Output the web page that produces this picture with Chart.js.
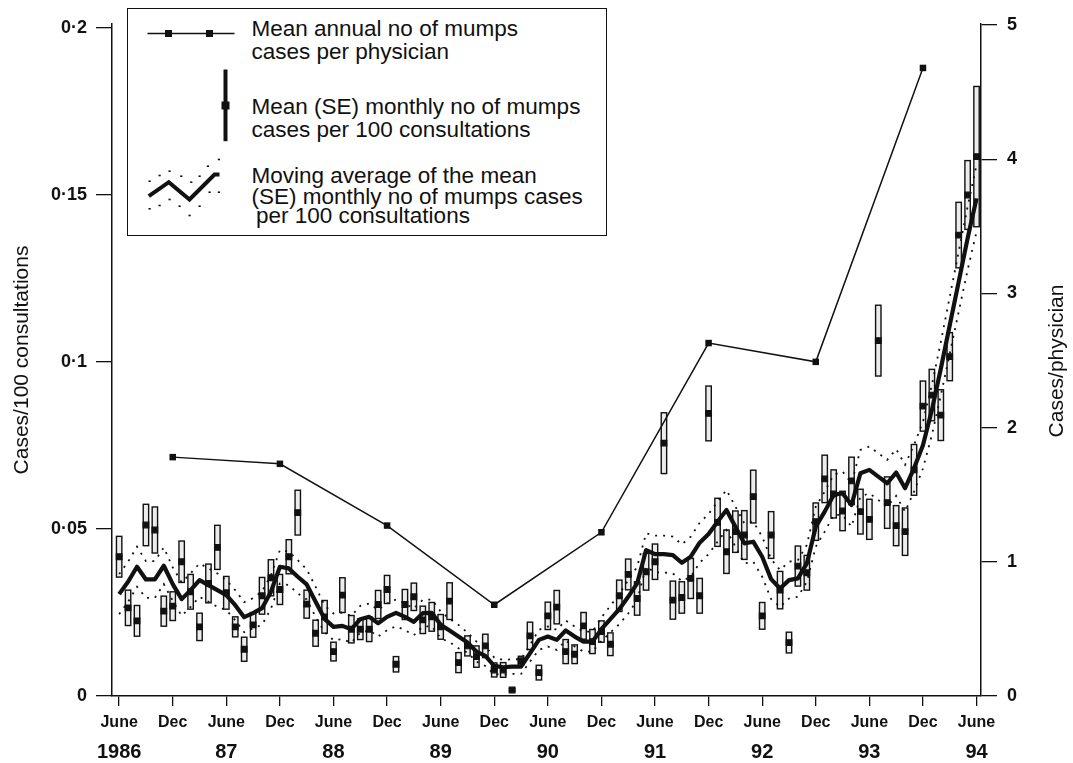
<!DOCTYPE html>
<html>
<head>
<meta charset="utf-8">
<title>Mumps cases 1986-94</title>
<script src="https://cdn.jsdelivr.net/npm/chart.js@4.4.1/dist/chart.umd.min.js"></script>
<style>
  html, body { margin: 0; padding: 0; background: #fff; }
  #wrap { position: relative; width: 1073px; height: 763px; }
  #chart { position: absolute; left: 0; top: 0; }
  .legend { position: absolute; left: 127px; top: 8px; width: 480px; height: 228px; box-sizing: border-box;
            border: 1.5px solid #111; background: #fff; }
  .legend svg { position: absolute; left: 0; top: 0; }
  .lg-row { position: absolute; left: 123.5px; font: 22.5px/1 "Liberation Sans", Arial, sans-serif; color: #111; white-space: nowrap; }
</style>
</head>
<body>
<div id="wrap">
  <canvas id="chart" width="1073" height="763"></canvas>
  <div class="legend">
    <svg width="477" height="225" viewBox="0 0 477 225">
      <!-- annual line symbol -->
      <line x1="19.5" y1="24.5" x2="106.5" y2="24.5" stroke="#111" stroke-width="1.5"/>
      <rect x="37" y="21" width="7" height="7" fill="#111"/>
      <rect x="78" y="21" width="7" height="7" fill="#111"/>
      <!-- monthly mean (SE) symbol -->
      <line x1="97.5" y1="60.5" x2="97.5" y2="132.2" stroke="#111" stroke-width="4"/>
      <rect x="93.5" y="92.5" width="8" height="8" fill="#111"/>
      <!-- moving average symbol -->
      <polyline points="20.8,187.2 40.8,173.2 61.5,190.5 86.5,165.5 91.5,165.5" fill="none" stroke="#111" stroke-width="4" stroke-linejoin="miter"/>
      <g fill="#111" id="lgDots"></g>
    </svg>
    <div class="lg-row" style="top:8.8px">Mean annual no of mumps</div>
    <div class="lg-row" style="top:31.5px">cases per physician</div>
    <div class="lg-row" style="top:86.5px">Mean (SE) monthly no of mumps</div>
    <div class="lg-row" style="top:109.8px">cases per 100 consultations</div>
    <div class="lg-row" style="top:155.8px">Moving average of the mean</div>
    <div class="lg-row" style="top:176.5px">(SE) monthly no of mumps cases</div>
    <div class="lg-row" style="top:195.5px; left:128px">per 100 consultations</div>
  </div>
</div>
<script>
// Monthly data, June 1986 (index 0) to June 1994 (index 96), one row per June-May year
const meanCases = [
  0.0417, 0.0264, 0.0225, 0.0512, 0.0497, 0.0254, 0.0269, 0.0402, 0.0312, 0.0207, 0.0337, 0.0445,
  0.0309, 0.0207, 0.0140, 0.0213, 0.0300, 0.0354, 0.0319, 0.0417, 0.0549, 0.0275, 0.0188, 0.0237,
  0.0133, 0.0302, 0.0200, 0.0200, 0.0200, 0.0274, 0.0319, 0.0095, 0.0274, 0.0297, 0.0228, 0.0237,
  0.0207, 0.0284, 0.0100, 0.0150, 0.0118, 0.0150, 0.0078, 0.0078, 0.0018, 0.0106, 0.0180, 0.0070,
  0.0240, 0.0266, 0.0133, 0.0125, 0.0210, 0.0163, 0.0193, 0.0155, 0.0300, 0.0364, 0.0292, 0.0372,
  0.0402, 0.0757, 0.0287, 0.0295, 0.0352, 0.0300, 0.0846, 0.0520, 0.0432, 0.0492, 0.0482, 0.0597,
  0.0240, 0.0482, 0.0317, 0.0160, 0.0389, 0.0369, 0.0522, 0.0650, 0.0605, 0.0554, 0.0644, 0.0552,
  0.0529, 0.1064, 0.0579, 0.0510, 0.0492, 0.0677, 0.0868, 0.0901, 0.0841, 0.1016, 0.1380, 0.1500,
  0.1615
];
const seCases = [
  0.0061, 0.0053, 0.0046, 0.0062, 0.0069, 0.0045, 0.0043, 0.0062, 0.0052, 0.0041, 0.0058, 0.0066,
  0.0049, 0.0030, 0.0036, 0.0037, 0.0055, 0.0054, 0.0045, 0.0051, 0.0067, 0.0042, 0.0039, 0.0049,
  0.0028, 0.0052, 0.0041, 0.0031, 0.0037, 0.0042, 0.0042, 0.0023, 0.0045, 0.0041, 0.0041, 0.0043,
  0.0037, 0.0055, 0.0030, 0.0030, 0.0032, 0.0035, 0.0021, 0.0022, 0.0005, 0.0013, 0.0041, 0.0022,
  0.0041, 0.0050, 0.0036, 0.0028, 0.0040, 0.0036, 0.0032, 0.0034, 0.0047, 0.0046, 0.0050, 0.0055,
  0.0053, 0.0091, 0.0057, 0.0047, 0.0060, 0.0052, 0.0082, 0.0072, 0.0065, 0.0062, 0.0073, 0.0079,
  0.0040, 0.0070, 0.0056, 0.0031, 0.0060, 0.0052, 0.0056, 0.0071, 0.0072, 0.0059, 0.0071, 0.0067,
  0.0060, 0.0106, 0.0077, 0.0060, 0.0071, 0.0076, 0.0075, 0.0077, 0.0076, 0.0072, 0.0098, 0.0103,
  0.0210
];
const movingAvg = [
  0.0305, 0.0342, 0.0387, 0.0349, 0.0349, 0.0390, 0.0335, 0.0290, 0.0317, 0.0347, 0.0332, 0.0317,
  0.0302, 0.0272, 0.0236, 0.0248, 0.0263, 0.0312, 0.0387, 0.0382, 0.0357, 0.0334, 0.0282, 0.0231,
  0.0207, 0.0210, 0.0200, 0.0230, 0.0237, 0.0218, 0.0237, 0.0249, 0.0237, 0.0222, 0.0248, 0.0249,
  0.0213, 0.0196, 0.0178, 0.0160, 0.0133, 0.0120, 0.0090, 0.0086, 0.0088, 0.0088, 0.0128, 0.0168,
  0.0178, 0.0168, 0.0196, 0.0178, 0.0163, 0.0163, 0.0200, 0.0230, 0.0260, 0.0297, 0.0337, 0.0437,
  0.0425, 0.0425, 0.0422, 0.0399, 0.0417, 0.0459, 0.0485, 0.0522, 0.0557, 0.0507, 0.0457, 0.0462,
  0.0417, 0.0350, 0.0322, 0.0347, 0.0352, 0.0397, 0.0507, 0.0552, 0.0602, 0.0607, 0.0572, 0.0667,
  0.0677, 0.0657, 0.0637, 0.0669, 0.0622, 0.0682, 0.0751, 0.0856, 0.0980, 0.1110, 0.1240, 0.1370,
  0.1490
];
const movingAvgSE = [
  0.0060, 0.0060, 0.0060, 0.0055, 0.0055, 0.0055, 0.0050, 0.0050, 0.0050, 0.0050, 0.0050, 0.0050,
  0.0045, 0.0045, 0.0045, 0.0045, 0.0050, 0.0050, 0.0050, 0.0050, 0.0050, 0.0045, 0.0045, 0.0040,
  0.0040, 0.0040, 0.0040, 0.0040, 0.0040, 0.0040, 0.0040, 0.0040, 0.0040, 0.0040, 0.0040, 0.0040,
  0.0040, 0.0035, 0.0035, 0.0030, 0.0030, 0.0030, 0.0025, 0.0022, 0.0022, 0.0022, 0.0025, 0.0030,
  0.0030, 0.0030, 0.0030, 0.0030, 0.0030, 0.0030, 0.0035, 0.0040, 0.0045, 0.0050, 0.0050, 0.0050,
  0.0055, 0.0055, 0.0055, 0.0055, 0.0060, 0.0060, 0.0060, 0.0060, 0.0060, 0.0060, 0.0060, 0.0060,
  0.0060, 0.0060, 0.0055, 0.0055, 0.0055, 0.0055, 0.0060, 0.0060, 0.0060, 0.0065, 0.0065, 0.0070,
  0.0070, 0.0070, 0.0070, 0.0070, 0.0070, 0.0070, 0.0070, 0.0075, 0.0080, 0.0085, 0.0090, 0.0095,
  0.0100
];

// Annual cases per physician, plotted at December of each year (right axis)
const annualMonths = [6, 18, 30, 42, 54, 66, 78, 90];
const annualCases = [1.78, 1.73, 1.27, 0.68, 1.22, 2.63, 2.49, 4.68];

// Axis ticks
const xTickMonths = [0, 6, 12, 18, 24, 30, 36, 42, 48, 54, 60, 66, 72, 78, 84, 90, 96];
const xTickLabels = ['June', 'Dec', 'June', 'Dec', 'June', 'Dec', 'June', 'Dec', 'June',
                     'Dec', 'June', 'Dec', 'June', 'Dec', 'June', 'Dec', 'June'];
const yearMonths = [0, 12, 24, 36, 48, 60, 72, 84, 96];
const yearLabels = ['1986', '87', '88', '89', '90', '91', '92', '93', '94'];
const yTicks = [0, 0.05, 0.1, 0.15, 0.2];
const yTickLabels = ['0', '0·05', '0·1', '0·15', '0·2'];
const y2Ticks = [0, 1, 2, 3, 4, 5];

const INK = '#111';
const FONT = '"Liberation Sans", Arial, sans-serif';
Chart.defaults.font.family = FONT;
Chart.defaults.color = INK;

// legend dotted band symbol
const lgUpper = [[21.5,172.2],[31.5,166.5],[41.5,162.2],[53.2,167.2],[63.2,173.2],[71.5,167.2],[79.8,157.2],[90.8,150.5]];
const lgLower = [[21.5,199.8],[31.5,196.5],[41.5,190.5],[51.5,197.2],[61.5,206.5],[71.5,197.2],[81.5,183.2],[90.8,183.2]];
const dotsG = document.getElementById('lgDots');
[...lgUpper, ...lgLower].forEach(([dx, dy]) => {
  const r = document.createElementNS('http://www.w3.org/2000/svg', 'rect');
  r.setAttribute('x', dx - 1); r.setAttribute('y', dy - 0.8);
  r.setAttribute('width', 2.2); r.setAttribute('height', 1.6);
  dotsG.appendChild(r);
});

const months = meanCases.map((_, i) => i);
const pts = (vals) => vals.map((v, i) => ({ x: months[i], y: v }));

// open SE boxes behind the monthly means
const errorBoxes = {
  id: 'errorBoxes',
  beforeDatasetsDraw(chart) {
    const { ctx, chartArea, scales: { x, y } } = chart;
    ctx.save();
    ctx.beginPath();
    ctx.rect(chartArea.left, chartArea.top, chartArea.width, chartArea.height);
    ctx.clip();
    ctx.lineWidth = 1.4;
    ctx.strokeStyle = INK;
    ctx.fillStyle = '#ececec';
    months.forEach((m, i) => {
      const px = x.getPixelForValue(m);
      const top = y.getPixelForValue(meanCases[i] + seCases[i]);
      const bot = y.getPixelForValue(meanCases[i] - seCases[i]);
      ctx.fillRect(px - 2.7, top, 5.4, bot - top);
      ctx.strokeRect(px - 2.7, top, 5.4, bot - top);
    });
    ctx.restore();
  }
};

// right axis title reads bottom-to-top like the left one
const rightTitle = {
  id: 'rightTitle',
  afterDraw(chart) {
    const { ctx, scales: { y2 } } = chart;
    ctx.save();
    ctx.translate(y2.right - 16, (y2.top + y2.bottom) / 2 + 1);
    ctx.rotate(-Math.PI / 2);
    ctx.textAlign = 'center';
    ctx.textBaseline = 'middle';
    ctx.fillStyle = INK;
    ctx.font = '21px ' + FONT;
    ctx.fillText('Cases/physician', 0, 0);
    ctx.restore();
  }
};

const tickGrid = (len) => ({ drawOnChartArea: false, drawTicks: true, tickLength: len, color: INK, lineWidth: 1.3 });
const axisBorder = { display: true, color: INK, width: 1.5 };

new Chart(document.getElementById('chart'), {
  type: 'line',
  data: {
    datasets: [
      {
        label: 'Mean (SE) monthly no of mumps cases per 100 consultations',
        data: pts(meanCases),
        showLine: false,
        pointStyle: 'rect',
        pointRadius: 4,
        pointBackgroundColor: INK,
        pointBorderColor: INK,
        pointBorderWidth: 1.2,
        yAxisID: 'y'
      },
      {
        label: 'Moving average',
        data: pts(movingAvg),
        borderColor: INK,
        borderWidth: 4.2,
        borderJoinStyle: 'round',
        pointRadius: 0,
        tension: 0,
        yAxisID: 'y'
      },
      {
        label: 'Moving average + SE',
        data: pts(movingAvg.map((v, i) => v + movingAvgSE[i])),
        borderColor: INK,
        borderWidth: 1.8,
        borderDash: [2, 6],
        pointRadius: 0,
        yAxisID: 'y'
      },
      {
        label: 'Moving average - SE',
        data: pts(movingAvg.map((v, i) => v - movingAvgSE[i])),
        borderColor: INK,
        borderWidth: 1.8,
        borderDash: [2, 6],
        pointRadius: 0,
        yAxisID: 'y'
      },
      {
        label: 'Mean annual no of mumps cases per physician',
        data: annualMonths.map((m, i) => ({ x: m, y: annualCases[i] })),
        borderColor: INK,
        borderWidth: 1.5,
        pointStyle: 'rect',
        pointRadius: 4.6,
        pointBackgroundColor: INK,
        pointBorderWidth: 0,
        tension: 0,
        yAxisID: 'y2'
      }
    ]
  },
  options: {
    responsive: false,
    animation: false,
    layout: { padding: { top: 24, left: 0, right: 0, bottom: 0 } },
    plugins: { legend: { display: false }, tooltip: { enabled: false } },
    scales: {
      x: {
        type: 'linear', position: 'bottom', min: -0.8, max: 96.5,
        afterBuildTicks: s => { s.ticks = xTickMonths.map(v => ({ value: v })); },
        afterFit: s => { s.height = 36; },
        grid: tickGrid(10),
        border: axisBorder,
        ticks: {
          autoSkip: false, maxRotation: 0, padding: 7, color: INK,
          font: { size: 16, weight: 'bold' },
          callback: (v, i) => xTickLabels[i]
        }
      },
      x2: {
        type: 'linear', position: 'bottom', weight: 1, min: -0.8, max: 96.5,
        afterBuildTicks: s => { s.ticks = yearMonths.map(v => ({ value: v })); },
        afterFit: s => { s.height = 31; },
        grid: { display: false, drawTicks: false },
        border: { display: false },
        ticks: {
          autoSkip: false, maxRotation: 0, padding: 8, color: INK,
          font: { size: 20, weight: 'bold' },
          callback: (v, i) => yearLabels[i]
        }
      },
      y: {
        type: 'linear', position: 'left', min: 0, max: 0.2012,
        afterBuildTicks: s => { s.ticks = yTicks.map(v => ({ value: v })); },
        afterFit: s => { s.width = 112; },
        grid: tickGrid(16),
        border: axisBorder,
        ticks: {
          padding: 9, color: INK, font: { size: 18, weight: 'bold' },
          callback: (v, i) => yTickLabels[i]
        },
        title: {
          display: true, text: 'Cases/100 consultations', color: INK,
          font: { size: 21 }, padding: { top: 10, bottom: 0 }
        }
      },
      y2: {
        type: 'linear', position: 'right', min: 0, max: 5.0075,
        afterBuildTicks: s => { s.ticks = y2Ticks.map(v => ({ value: v })); },
        afterFit: s => { s.width = 92; },
        grid: tickGrid(16),
        border: axisBorder,
        ticks: {
          padding: 10, color: INK, font: { size: 18, weight: 'bold' },
          callback: (v, i) => String(y2Ticks[i])
        }
      }
    }
  },
  plugins: [errorBoxes, rightTitle]
});
</script>
</body>
</html>
